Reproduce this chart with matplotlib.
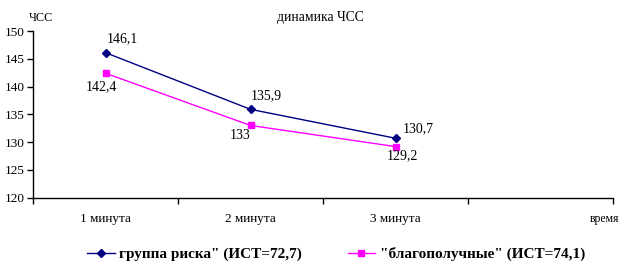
import matplotlib
matplotlib.use("Agg")
import matplotlib.pyplot as plt

categories = ["1 минута", "2 минута", "3 минута", ""]
risk = [146.1, 135.9, 130.7]
good = [142.4, 133.0, 129.2]
risk_labels = ["146,1", "135,9", "130,7"]
good_labels = ["142,4", "133", "129,2"]
series_names = ['группа риска" (ИСТ=72,7)', '"благополучные" (ИСТ=74,1)']
yticks = [120, 125, 130, 135, 140, 145, 150]

serif = ["Liberation Serif", "DejaVu Serif"]
plt.rcParams["font.family"] = serif

fig = plt.figure(figsize=(6.3, 2.71), dpi=100)
ax = fig.add_axes([33/630, 1-197.7/271, (613-33)/630, (197.7-31)/271])

x = [i + 0.5 for i in range(len(risk))]
ax.plot(x, risk, color="#000080", marker="D", markersize=4.5, lw=1, label=series_names[0])
ax.plot(x, good, color="#FF00FF", marker="s", markersize=5, lw=1, label=series_names[1])

ax.set_xlim(0, len(categories))
ax.set_ylim(120, 150)
ax.set_yticks(yticks)
ax.set_yticklabels([str(v) for v in yticks], fontsize=9.5)
ax.set_xticks(range(len(categories) + 1))
ax.set_xticklabels([])
for i, c in enumerate(categories):
    if c:
        ax.text(i + 0.5, -0.125, c, transform=ax.get_xaxis_transform(), ha="center", va="center", fontsize=9.5)
fig.text(619/630, 1-219/271, "время", ha="right", va="center", fontsize=8.5)

ax.tick_params(axis="both", direction="out", length=4, width=1, colors="black", pad=2)
for s in ["top", "right"]:
    ax.spines[s].set_visible(False)
for s in ["left", "bottom"]:
    ax.spines[s].set_linewidth(1)
    ax.spines[s].set_color("black")

lab_fs = 10
offs_r = [(1, 10), (0, 10), (5, 7)]
offs_g = [(-14, -9.5), (-15, -7), (-6, -6.5)]
for xi, v, t, (dx, dy) in zip(x, risk, risk_labels, offs_r):
    ax.annotate(t, (xi, v), xytext=(dx, dy), textcoords="offset points", ha="left", va="center", fontsize=lab_fs)
for xi, v, t, (dx, dy) in zip(x, good, good_labels, offs_g):
    ax.annotate(t, (xi, v), xytext=(dx, dy), textcoords="offset points", ha="left", va="center", fontsize=lab_fs)

fig.text(320/630, 1-18/271, "динамика ЧСС", ha="center", va="center", fontsize=9.8)
fig.text(29/630, 1-18/271, "ЧСС", ha="left", va="center", fontsize=8.8)

handles, labels = ax.get_legend_handles_labels()
fig.legend(handles, labels, loc="center", bbox_to_anchor=(336/630, 1-254/271), ncol=2, frameon=False,
           prop={"family": serif, "weight": "bold", "size": 11}, handlelength=1.8, columnspacing=3.0, handletextpad=0.3)

fig.savefig("out.png", dpi=100)
